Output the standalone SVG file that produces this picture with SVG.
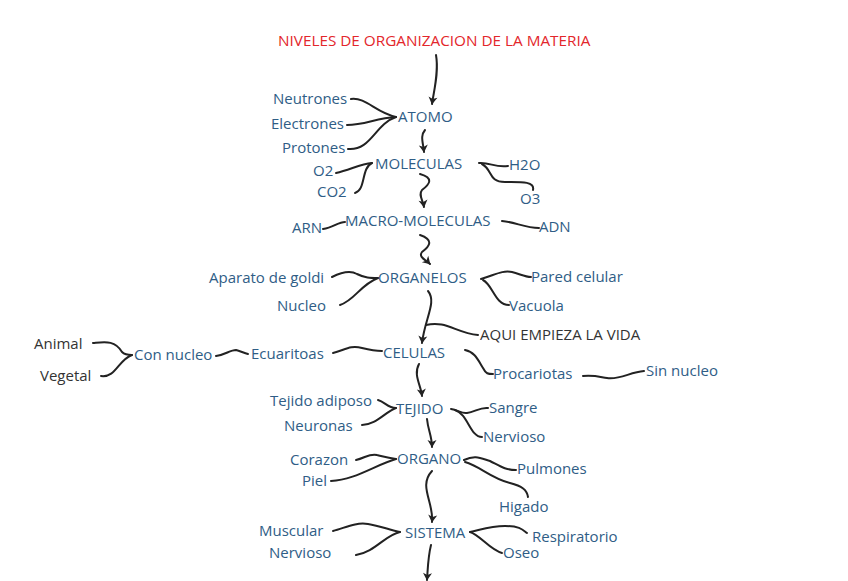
<svg xmlns="http://www.w3.org/2000/svg" width="848" height="581" viewBox="0 0 848 581">
<style>
text{font-family:"Open Sans","Noto Sans","Liberation Sans",sans-serif;font-size:15px;fill:#2f5d86}
.t{fill:#e3262b;font-size:15.3px}
.k{fill:#333333}
.c path{fill:none;stroke:#222;stroke-width:2;stroke-linecap:round}
</style>
<defs>
<marker id="a" viewBox="-1 -5 10 10" markerWidth="10" markerHeight="10" refX="7" refY="0" orient="auto" markerUnits="userSpaceOnUse">
<path d="M0,-4.5 L7.5,0 L0,4.5 L2,0 z" fill="#222"/>
</marker>
</defs>
<rect width="848" height="581" fill="#ffffff"/>
<g class="c" id="connectors">
<path d="M436,55 C439,72 434,90 432,104" marker-end="url(#a)"/>
<path d="M425,130 C420,136 423,142 424,152" marker-end="url(#a)"/>
<path d="M420,174 C434,178 430,184 422,190 C418,195 423,200 424,207" marker-end="url(#a)"/>
<path d="M420,235 C434,240 430,246 422,252 C418,257 426,260 430,264" marker-end="url(#a)"/>
<path d="M428,291 C437,302 425,318 422,343" marker-end="url(#a)"/>
<path d="M478,335 C456,333 446,320 426,325"/>
<path d="M419,364 C413,375 421,385 422,396" marker-end="url(#a)"/>
<path d="M427,419 C428,430 432,436 432,447" marker-end="url(#a)"/>
<path d="M432,471 C418,486 434,502 432,522" marker-end="url(#a)"/>
<path d="M431,545 C428,557 428,566 427,580" marker-end="url(#a)"/>
<path d="M351,99 C366,97 376,113 396,117"/>
<path d="M347,125 C365,125 376,118 396,117"/>
<path d="M348,149 C371,151 375,124 396,117"/>
<path d="M336,173 C350,170 360,164 372,163"/>
<path d="M355,193 C366,190 361,168 372,163"/>
<path d="M479,163 C490,162 495,168 508,166"/>
<path d="M482,164 C493,170 488,182 505,182 C520,182 535,181 533,190"/>
<path d="M323,229 C333,228 338,222 345,222"/>
<path d="M502,221 C515,222 525,228 539,228"/>
<path d="M332,277 C342,272 350,270 357,274 C365,278 370,278 378,278"/>
<path d="M340,305 C355,300 360,285 378,278"/>
<path d="M481,279 C495,275 502,270 512,272 C520,274 525,277 531,277"/>
<path d="M483,280 C493,285 495,305 509,305"/>
<path d="M333,353 C345,350 350,345 362,348 C370,350 374,351 382,351"/>
<path d="M216,356 C225,355 230,350 236,350 C240,351 244,353 248,354"/>
<path d="M93,343 C105,342 115,340 122,352 C125,355 128,355 132,355"/>
<path d="M101,376 C116,378 118,360 132,355"/>
<path d="M465,350 C475,352 478,360 483,368 C486,374 488,374 493,374"/>
<path d="M583,376 C595,375 600,377 607,378 C620,380 630,372 644,371"/>
<path d="M378,400 C385,402 388,408 396,408"/>
<path d="M362,425 C376,425 385,412 396,408"/>
<path d="M451,409 C458,410 462,414 467,413 C475,412 480,407 488,408"/>
<path d="M455,410 C468,414 470,437 482,437"/>
<path d="M356,460 C365,458 370,453 377,455 C385,457 388,458 396,459"/>
<path d="M331,481 C355,480 375,465 396,459"/>
<path d="M464,460 C475,455 480,458 490,461 C500,466 505,470 516,470"/>
<path d="M465,462 C480,466 490,478 510,483 C522,486 527,490 528,497"/>
<path d="M333,531 C345,528 355,522 368,524 C380,526 390,530 400,532"/>
<path d="M356,555 C375,552 385,535 400,532"/>
<path d="M470,532 C480,530 490,526 505,526 C520,526 523,530 527,533"/>
<path d="M470,532 C480,535 490,550 502,553"/>
</g>
<g id="title"><text class="t" x="278" y="46">NIVELES DE ORGANIZACION DE LA MATERIA</text></g>
<g id="atomo"><text x="398" y="122">ATOMO</text></g>
<g id="neutrones"><text x="273" y="104">Neutrones</text></g>
<g id="electrones"><text x="271" y="129">Electrones</text></g>
<g id="protones"><text x="282" y="153">Protones</text></g>
<g id="moleculas"><text x="375" y="169">MOLECULAS</text></g>
<g id="o2"><text x="313" y="176">O2</text></g>
<g id="co2"><text x="317" y="197">CO2</text></g>
<g id="h2o"><text x="509" y="170">H2O</text></g>
<g id="o3"><text x="520" y="204">O3</text></g>
<g id="macro"><text x="345" y="226">MACRO-MOLECULAS</text></g>
<g id="arn"><text x="292" y="233">ARN</text></g>
<g id="adn"><text x="539" y="232">ADN</text></g>
<g id="organelos"><text x="378" y="283">ORGANELOS</text></g>
<g id="goldi"><text x="209" y="283">Aparato de goldi</text></g>
<g id="nucleo"><text x="277" y="311">Nucleo</text></g>
<g id="pared"><text x="531" y="282">Pared celular</text></g>
<g id="vacuola"><text x="509" y="311">Vacuola</text></g>
<g id="vida"><text class="k" x="480" y="340">AQUI EMPIEZA LA VIDA</text></g>
<g id="celulas"><text x="383" y="358">CELULAS</text></g>
<g id="ecuaritoas"><text x="251" y="359">Ecuaritoas</text></g>
<g id="connucleo"><text x="134" y="360">Con nucleo</text></g>
<g id="animal"><text class="k" x="34" y="349">Animal</text></g>
<g id="vegetal"><text class="k" x="40" y="381">Vegetal</text></g>
<g id="procariotas"><text x="493" y="379">Procariotas</text></g>
<g id="sinnucleo"><text x="646" y="376">Sin nucleo</text></g>
<g id="tejido"><text x="396" y="414">TEJIDO</text></g>
<g id="adiposo"><text x="270" y="406">Tejido adiposo</text></g>
<g id="neuronas"><text x="284" y="431">Neuronas</text></g>
<g id="sangre"><text x="489" y="413">Sangre</text></g>
<g id="nervioso1"><text x="483" y="442">Nervioso</text></g>
<g id="organo"><text x="397" y="464">ORGANO</text></g>
<g id="corazon"><text x="290" y="465">Corazon</text></g>
<g id="piel"><text x="302" y="486">Piel</text></g>
<g id="pulmones"><text x="517" y="474">Pulmones</text></g>
<g id="higado"><text x="499" y="512">Higado</text></g>
<g id="sistema"><text x="405" y="538">SISTEMA</text></g>
<g id="muscular"><text x="259" y="536">Muscular</text></g>
<g id="nervioso2"><text x="269" y="558">Nervioso</text></g>
<g id="respiratorio"><text x="532" y="542">Respiratorio</text></g>
<g id="oseo"><text x="503" y="558">Oseo</text></g>
</svg>
